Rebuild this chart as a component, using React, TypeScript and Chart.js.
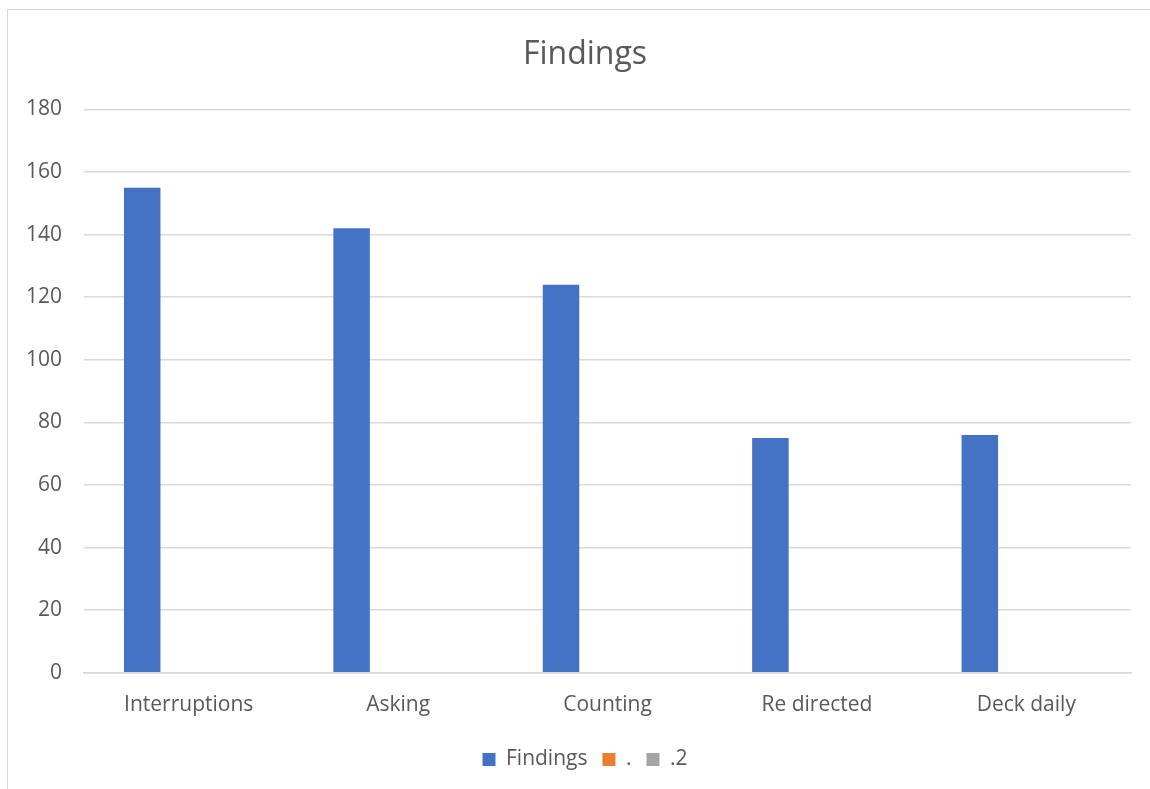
import React, { useEffect, useRef } from "react";
import { Chart, registerables } from "chart.js";

Chart.register(...registerables);

const categories = ["Interruptions", "Asking", "Counting", "Re directed", "Deck daily"];
const findingsValues = [155, 142, 124, 75, 76];
const dotValues = [0, 0, 0, 0, 0];
const dot2Values = [0, 0, 0, 0, 0];
const seriesNames = ["Findings", ".", ".2"];
const yTicks = [0, 20, 40, 60, 80, 100, 120, 140, 160, 180];

const FONT = "'Open Sans', 'Noto Sans', sans-serif";
const TEXT = "#595959";

export default function App() {
  const ref = useRef<HTMLCanvasElement | null>(null);

  useEffect(() => {
    if (!ref.current) return;
    const chart = new Chart(ref.current, {
      type: "bar",
      data: {
        labels: categories,
        datasets: [
          { label: seriesNames[0], data: findingsValues, backgroundColor: "#4472C4", borderWidth: 0 },
          { label: seriesNames[1], data: dotValues, backgroundColor: "#ED7D31", borderWidth: 0 },
          { label: seriesNames[2], data: dot2Values, backgroundColor: "#A5A5A5", borderWidth: 0 },
        ],
      },
      options: {
        animation: false,
        responsive: false,
        maintainAspectRatio: false,
        datasets: {
          bar: { categoryPercentage: 0.666, barPercentage: 0.785 },
        },
        layout: { padding: { left: 0, right: 0, top: 0, bottom: 10 } },
        plugins: {
          title: {
            display: true,
            text: "Findings",
            color: TEXT,
            font: { family: FONT, size: 32, weight: "normal" },
            padding: { top: 26, bottom: 35 },
          },
          legend: {
            position: "bottom",
            labels: {
              color: TEXT,
              font: { family: FONT, size: 21 },
              boxWidth: 13,
              boxHeight: 13,
              padding: 15,
            },
          },
          tooltip: { enabled: false },
        },
        scales: {
          x: {
            grid: { display: false, drawTicks: false },
            border: { display: true, color: "#D9D9D9", width: 1.5 },
            ticks: { color: TEXT, font: { family: FONT, size: 21 }, padding: 20, maxRotation: 0 },
            afterFit: (scale: any) => {
              scale.height = scale.height - 4;
            },
          },
          y: {
            min: 0,
            max: 180,
            afterBuildTicks: (scale: any) => {
              scale.ticks = yTicks.map((v) => ({ value: v }));
            },
            afterFit: (scale: any) => {
              scale.width = 76;
            },
            grid: { color: "#D9D9D9", lineWidth: 1.5, drawTicks: false },
            border: { display: false },
            ticks: { color: TEXT, font: { family: FONT, size: 21 }, padding: 22 },
          },
          yRight: {
            position: "right",
            display: true,
            min: 0,
            max: 180,
            grid: { display: false, drawTicks: false },
            border: { display: false },
            ticks: { display: false },
            afterFit: (scale: any) => {
              scale.width = 31;
            },
          },
        },
      },
    });
    return () => chart.destroy();
  }, []);

  return (
    <div
      style={{
        position: "absolute",
        left: 7,
        top: 9,
        width: 1143,
        height: 780,
        overflow: "hidden",
        borderLeft: "1px solid #D9D9D9",
        borderTop: "1px solid #D9D9D9",
        background: "#fff",
      }}
    >
      <canvas ref={ref} width={1154} height={780} style={{ display: "block" }} />
    </div>
  );
}
